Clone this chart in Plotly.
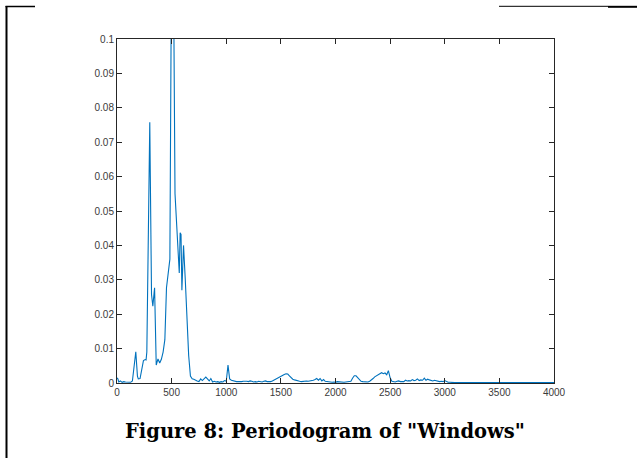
import plotly.graph_objects as go

# ---- data ----
freq = [0, 8, 16, 31, 47, 62, 78, 94, 109, 125, 141, 156, 172, 187, 195, 211, 227, 242, 258, 266,
        273, 289, 300, 305, 316, 328, 344, 359, 375, 391, 406, 422, 438, 453, 469, 484, 500, 516,
        531, 547, 563, 570, 578, 586, 594, 609, 625, 641, 656, 672, 688, 703, 719, 734, 750, 766,
        781, 797, 813, 828, 844, 859, 875, 891, 906, 922, 938, 953, 969, 984, 1000, 1016, 1031,
        1047, 1063, 1078, 1094, 1109, 1125, 1141, 1156, 1172, 1188, 1203, 1219, 1234, 1250, 1266,
        1281, 1297, 1313, 1328, 1344, 1359, 1375, 1391, 1406, 1422, 1438, 1453, 1469, 1484, 1500,
        1516, 1531, 1547, 1563, 1578, 1594, 1609, 1625, 1641, 1656, 1672, 1688, 1703, 1719, 1734,
        1750, 1766, 1781, 1797, 1813, 1828, 1844, 1859, 1875, 1891, 1906, 1922, 1938, 1953, 1969,
        1984, 2000, 2016, 2031, 2047, 2063, 2078, 2094, 2109, 2125, 2141, 2156, 2172, 2188, 2203,
        2219, 2234, 2250, 2266, 2281, 2297, 2313, 2328, 2344, 2359, 2375, 2391, 2406, 2422, 2438,
        2453, 2469, 2484, 2500, 2516, 2531, 2547, 2563, 2578, 2594, 2609, 2625, 2641, 2656, 2672,
        2688, 2703, 2719, 2734, 2750, 2766, 2781, 2797, 2813, 2828, 2844, 2859, 2875, 2891, 2906,
        2922, 2938, 2953, 2969, 2984, 3000, 3016, 3031, 3047, 3063, 3078, 3094, 3125, 3156, 3188,
        3219, 3250, 3281, 3313, 3344, 3375, 3406, 3438, 3469, 3500, 3531, 3563, 3594, 3625, 3656,
        3688, 3719, 3750, 3781, 3813, 3844, 3875, 3906, 3938, 3969, 4000]
power = [0.0015, 0.0012, 0.0003, 0.0006, 0.0002, 0.0004, 0.0003, 0.0002, 0.0003, 0.0002, 0.0006,
         0.0045, 0.0091, 0.0020, 0.0012, 0.0013, 0.0040, 0.0065, 0.0068, 0.0067, 0.0090, 0.0450,
         0.0758, 0.0600, 0.0257, 0.0223, 0.0277, 0.0052, 0.0070, 0.0058, 0.0069, 0.0090, 0.0126,
         0.0277, 0.0316, 0.0360, 0.1300, 0.1250, 0.0550, 0.0450, 0.0380, 0.0320, 0.0437, 0.0432,
         0.0270, 0.0400, 0.0300, 0.0180, 0.0080, 0.0020, 0.0012, 0.0011, 0.0007, 0.0006, 0.0004,
         0.0012, 0.0007, 0.0011, 0.0017, 0.0012, 0.0006, 0.0013, 0.0003, 0.0005, 0.0003, 0.0004,
         0.0002, 0.0004, 0.0003, 0.0007, 0.0005, 0.0052, 0.0012, 0.0008, 0.0006, 0.0005, 0.0004,
         0.0004, 0.0003, 0.0004, 0.0005, 0.0006, 0.0005, 0.0004, 0.0006, 0.0005, 0.0003, 0.0004,
         0.0003, 0.0005, 0.0004, 0.0003, 0.0005, 0.0006, 0.0004, 0.0003, 0.0004, 0.0006, 0.0009,
         0.0012, 0.0015, 0.0018, 0.0021, 0.0024, 0.0025, 0.0027, 0.0026, 0.0021, 0.0015, 0.0011,
         0.0009, 0.0007, 0.0006, 0.0005, 0.0004, 0.0005, 0.0004, 0.0006, 0.0005, 0.0006, 0.0005,
         0.0008, 0.0010, 0.0013, 0.0008, 0.0013, 0.0006, 0.0010, 0.0005, 0.0004, 0.0003, 0.0002,
         0.0002, 0.0003, 0.0002, 0.0004, 0.0003, 0.0004, 0.0003, 0.0002, 0.0003, 0.0004, 0.0003,
         0.0005, 0.0014, 0.0021, 0.0021, 0.0016, 0.0008, 0.0005, 0.0004, 0.0003, 0.0004, 0.0003,
         0.0005, 0.0008, 0.0013, 0.0018, 0.0022, 0.0025, 0.0027, 0.0030, 0.0027, 0.0029, 0.0024,
         0.0036, 0.0015, 0.0005, 0.0004, 0.0003, 0.0005, 0.0006, 0.0004, 0.0005, 0.0004, 0.0008,
         0.0006, 0.0007, 0.0006, 0.0010, 0.0007, 0.0008, 0.0012, 0.0007, 0.0009, 0.0008, 0.0014,
         0.0008, 0.0011, 0.0009, 0.0007, 0.0006, 0.0008, 0.0006, 0.0005, 0.0004, 0.0005, 0.0004,
         0.0007, 0.0003, 0.0002, 0.0002, 0.0001, 0.0002, 0.0001, 0.0001, 0.0001, 0.0002, 0.0001,
         0.0003, 0.0001, 0.0001, 0.0002, 0.0001, 0.0001, 0.0002, 0.0001, 0.0001, 0.0001, 0.0002,
         0.0001, 0.0001, 0.0001, 0.0001, 0.0002, 0.0001, 0.0001, 0.0001, 0.0001, 0.0001, 0.0001,
         0.0001, 0.0001, 0.0001]

x_ticks = [0, 500, 1000, 1500, 2000, 2500, 3000, 3500, 4000]
x_labels = ["0", "500", "1000", "1500", "2000", "2500", "3000", "3500", "4000"]
y_ticks = [0, 0.01, 0.02, 0.03, 0.04, 0.05, 0.06, 0.07, 0.08, 0.09, 0.1]
y_labels = ["0", "0.01", "0.02", "0.03", "0.04", "0.05", "0.06", "0.07", "0.08", "0.09", "0.1"]
caption = "Figure 8: Periodogram of \"Windows\""

# ---- layout geometry (pixels) ----
W, H = 637, 458
L, R, T, B = 117, 554, 39, 383


def px(xp):
    return (xp - L) / (R - L)


def py(yp):
    return (B - yp) / (B - T)


fig = go.Figure()
fig.add_trace(go.Scatter(x=freq, y=power, mode="lines",
                         line=dict(color="#0072BD", width=1.1), showlegend=False,
                         hoverinfo="skip"))

axis_common = dict(showgrid=False, zeroline=False, showline=True, linecolor="#262626",
                   linewidth=1, mirror="ticks", ticks="inside", ticklen=5, tickwidth=1,
                   tickcolor="#262626",
                   tickfont=dict(family="Liberation Sans, Arial, sans-serif", size=10,
                                 color="#3a3a3a"))

fig.update_xaxes(range=[0, 4000], tickmode="array", tickvals=x_ticks, ticktext=x_labels,
                 **axis_common)
fig.update_yaxes(range=[0, 0.1], tickmode="array", tickvals=y_ticks, ticktext=y_labels,
                 **axis_common)

shapes = [
    # left page border
    dict(type="line", xref="paper", yref="paper", x0=px(6.5), x1=px(6.5), y0=py(6), y1=py(460),
         line=dict(color="black", width=2)),
    # top border segments
    dict(type="line", xref="paper", yref="paper", x0=px(5.5), x1=px(35), y0=py(6.5), y1=py(6.5),
         line=dict(color="black", width=1.5)),
    dict(type="line", xref="paper", yref="paper", x0=px(499), x1=px(608), y0=py(6.3), y1=py(6.3),
         line=dict(color="black", width=1)),
    dict(type="line", xref="paper", yref="paper", x0=px(608), x1=px(640), y0=py(6.8), y1=py(6.8),
         line=dict(color="black", width=2)),
]

fig.update_layout(
    width=W, height=H, autosize=False,
    margin=dict(l=L, r=W - R, t=T, b=H - B, pad=0),
    paper_bgcolor="white", plot_bgcolor="white",
    shapes=shapes,
    annotations=[dict(text="<b>" + caption + "</b>", xref="paper", yref="paper",
                      x=px(325), y=py(431), xanchor="center", yanchor="middle",
                      showarrow=False,
                      font=dict(family="DejaVu Serif, Liberation Serif, serif", size=19.5,
                                color="black"))],
)

fig.write_html("out.html", config={"displayModeBar": False})
